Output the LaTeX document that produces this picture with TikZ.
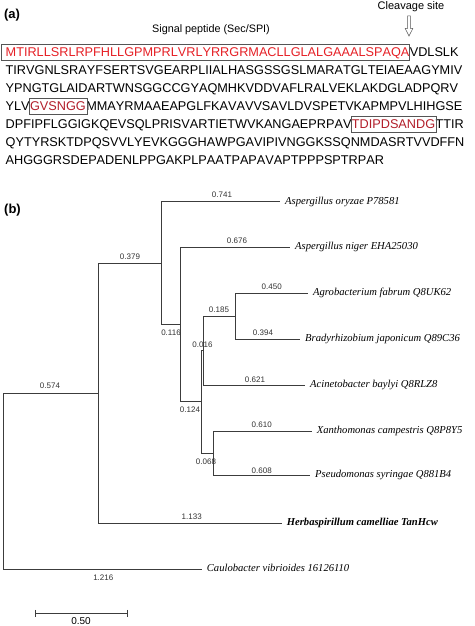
\documentclass[tikz,border=0pt]{standalone}
\usepackage{fontspec}
\setmainfont{Liberation Sans}
\newfontfamily\seqfont[Kerning=Off]{Liberation Sans}
\newfontfamily\leaffont{Liberation Serif}
\usetikzlibrary{calc}
\definecolor{sigred}{RGB}{230,32,38}
\definecolor{motifred}{RGB}{178,30,42}
\definecolor{boxgray}{RGB}{85,85,85}
\definecolor{treegray}{RGB}{60,60,60}
\begin{document}
\begin{tikzpicture}[x=1pt,y=-1pt,
  seq/.style={inner sep=0pt, anchor=base west, font=\seqfont\fontsize{12.7pt}{15pt}\selectfont},
  boxline/.style={draw=boxgray, line width=0.7pt},
  panel/.style={inner sep=0pt, font=\bfseries\fontsize{13pt}{15pt}\selectfont},
  note/.style={inner sep=0pt, font=\fontsize{11pt}{13pt}\selectfont},
  branch/.style={draw=treegray, line width=0.7pt},
  blab/.style={inner sep=0pt, text=black!80, font=\fontsize{8pt}{9pt}\selectfont},
  leaf/.style={anchor=west, inner xsep=5pt, inner ysep=0pt, text height=7.5pt, text depth=2.5pt,
    font=\leaffont\itshape\fontsize{10.6pt}{12pt}\selectfont},
]
\useasboundingbox (0,0) rectangle (474,626);
\fill[white] (0,0) rectangle (474,626);

% ---------- panel (a) ----------
\node[panel] (pa) at (12,15) {(a)};
\node[note] (cleav) at (411,6.5) {Cleavage site};
\node[note, font=\fontsize{10.8pt}{13pt}\selectfont] (sigp) at (211,30) {Signal peptide (Sec/SPI)};
\draw[draw=boxgray, line width=0.5pt, fill=white]
  (407.6,16) -- (410.4,16) -- (410.4,28.5) -- (412.8,28.5) -- (409,36) -- (405.2,28.5) -- (407.6,28.5) -- cycle;

\node[seq, text=sigred] (r1a) at (5.5,56.5) {MTIRLLSRLRPFHLLGPMPRLVRLYRRGRMACLLGLALGAAALSPAQA};
\node[seq] (r1b) at (r1a.base east) {VDLSLK};
\draw[boxline] ($(r1a.base west)+(-4.5,3.5)$) rectangle ($(r1a.base east)+(0,-12.5)$);

\node[seq] (r2) at (5.5,74.5) {TIRVGNLSRAYFSERTSVGEARPLIIALHASGSSGSLMARATGLTEIAEAAGYMIV};
\node[seq] (r3) at (5.5,92.5) {YPNGTGLAIDARTWNSGGCCGYAQMHKVDDVAFLRALVEKLAKDGLADPQRV};

\node[seq] (r4a) at (5.5,110.5) {YLV};
\node[seq, text=motifred] (r4b) at (r4a.base east) {GVSNGG};
\node[seq] (r4c) at (r4b.base east) {MMAYRMAAEAPGLFKAVAVVSAVLDVSPETVKAPMPVLHIHGSE};
\draw[boxline] ($(r4b.base west)+(-0.8,3.5)$) rectangle ($(r4b.base east)+(0.8,-12.5)$);

\node[seq] (r5a) at (5.5,128.5) {DPFIPFLGGIGKQEVSQLPRISVARTIETWVKANGAEPRPAV};
\node[seq, text=motifred] (r5b) at (r5a.base east) {TDIPDSANDG};
\node[seq] (r5c) at (r5b.base east) {TTIR};
\draw[boxline] ($(r5b.base west)+(-0.8,3.5)$) rectangle ($(r5b.base east)+(0.8,-12.5)$);

\node[seq] (r6) at (5.5,146.5) {QYTYRSKTDPQSVVLYEVKGGGHAWPGAVIPIVNGGKSSQNMDASRTVVDFFN};
\node[seq] (r7) at (5.5,164.5) {AHGGGRSDEPADENLPPGAKPLPAATPAPAVAPTPPPSPTRPAR};

% ---------- panel (b) ----------
\node[panel] (pb) at (12.5,210.5) {(b)};

% internal nodes
\coordinate (R)  at (3.3,480.9);
\coordinate (U)  at (98.3,393.1);
\coordinate (V)  at (161.7,263.1);
\coordinate (X)  at (180.7,324.5);
\coordinate (Y)  at (201.7,401.8);
\coordinate (Z)  at (203.6,350.5);
\coordinate (A1) at (235.7,316.3);
\coordinate (W)  at (213.3,453.2);

% leaves
\node[leaf] (oryz)  at (280,201.7)   {Aspergillus oryzae P78581};
\node[leaf] (nig)   at (290,247.3)   {Aspergillus niger EHA25030};
\node[leaf] (agro)  at (308,293.3)   {Agrobacterium fabrum Q8UK62};
\node[leaf] (brady) at (300,339.3)   {Bradyrhizobium japonicum Q89C36};
\node[leaf] (acin)  at (305,385)     {Acinetobacter baylyi Q8RLZ8};
\node[leaf] (xan)   at (311.7,431)   {Xanthomonas campestris Q8P8Y5};
\node[leaf] (pse)   at (310,475.3)   {Pseudomonas syringae Q881B4};
\node[leaf, font=\leaffont\bfseries\itshape\fontsize{10.6pt}{12pt}\selectfont] (herb) at (281.7,523) {Herbaspirillum camelliae TanHcw};
\node[leaf] (caulo) at (201.7,569)   {Caulobacter vibrioides 16126110};

% branches
\draw[branch] (R) |- (U);
\draw[branch] (R) |- (caulo.west);
\draw[branch] (U) |- (V);
\draw[branch] (U) |- (herb.west);
\draw[branch] (V) |- (oryz.west);
\draw[branch] (V) |- (X);
\draw[branch] (X) |- (nig.west);
\draw[branch] (X) |- (Y);
\draw[branch] (Y) |- (Z);
\draw[branch] (Y) |- (W);
\draw[branch] (Z) |- (A1);
\draw[branch] (Z) |- (acin.west);
\draw[branch] (A1) |- (agro.west);
\draw[branch] (A1) |- (brady.west);
\draw[branch] (W) |- (xan.west);
\draw[branch] (W) |- (pse.west);

% branch lengths
\node[blab] (b741) at (222,195)     {0.741};
\node[blab] (b676) at (237,241)     {0.676};
\node[blab] (b379) at (130,257)     {0.379};
\node[blab] (b450) at (271.7,286.7) {0.450};
\node[blab] (b185) at (219,310)     {0.185};
\node[blab] (b394) at (263,332.7)   {0.394};
\node[blab] (b116) at (171,332.5)   {0.116};
\node[blab] (b016) at (202.5,345)   {0.016};
\node[blab] (b621) at (255,379.3)   {0.621};
\node[blab] (b124) at (190,409.3)   {0.124};
\node[blab] (b610) at (261.7,424.3) {0.610};
\node[blab] (b068) at (206,461.7)   {0.068};
\node[blab] (b608) at (261.7,470.5) {0.608};
\node[blab] (b574) at (50,386)      {0.574};
\node[blab] (b1133) at (191.7,516.7) {1.133};
\node[blab] (b1216) at (103.3,577.3) {1.216};

% scale bar
\coordinate (sbL) at (35.7,613.3);
\coordinate (sbR) at (127.3,613.3);
\draw[branch] (sbL) -- (sbR);
\draw[branch] ($(sbL)+(0,-3.5)$) -- ($(sbL)+(0,3.5)$);
\draw[branch] ($(sbR)+(0,-3.5)$) -- ($(sbR)+(0,3.5)$);
\node[inner sep=0pt, font=\fontsize{10pt}{11pt}\selectfont] (sblab) at (81,621.5) {0.50};
\end{tikzpicture}
\end{document}
